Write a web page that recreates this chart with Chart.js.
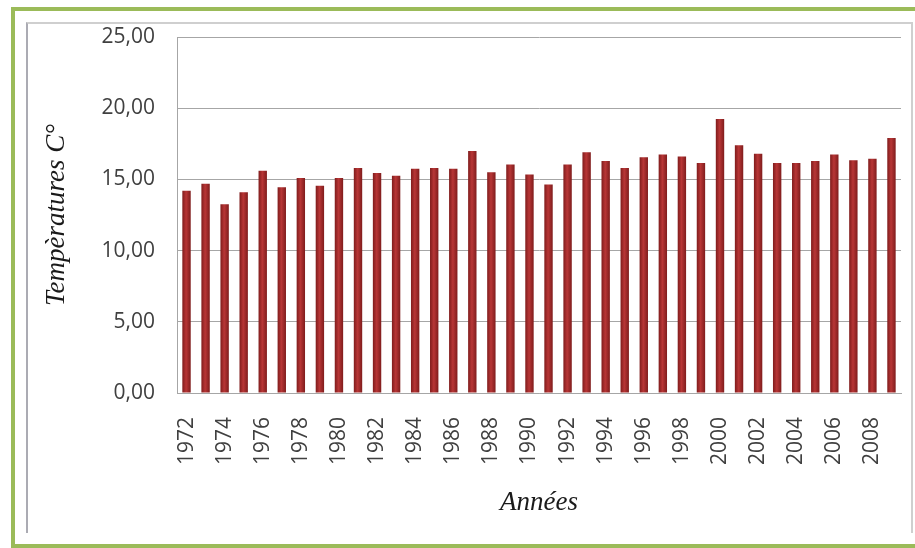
<!DOCTYPE html>
<html>
<head>
<meta charset="utf-8">
<script src="https://cdn.jsdelivr.net/npm/chart.js@4/dist/chart.umd.min.js"></script>
<style>
    html, body { margin: 0; padding: 0; background: #fff; overflow: hidden; }
    #frame { position: absolute; left: 11px; top: 7px; width: 930px; height: 541px; box-sizing: border-box; border: 4px solid #9bbb59; }
    #inner { position: absolute; left: 26px; top: 22px; width: 887px; height: 511px; box-sizing: border-box; border: 2px solid #cfcfcf; border-left-color: #ababb3; border-bottom: none; }
    #chart { position: absolute; left: 0; top: 0; }
</style>
</head>
<body>
<div id="frame"></div>
<div id="inner"></div>
<canvas id="chart" width="915" height="548"></canvas>
<script>
// Températures moyennes annuelles
const annees = [
    '1972', '1973', '1974', '1975', '1976', '1977', '1978', '1979', '1980', '1981',
    '1982', '1983', '1984', '1985', '1986', '1987', '1988', '1989', '1990', '1991',
    '1992', '1993', '1994', '1995', '1996', '1997', '1998', '1999', '2000', '2001',
    '2002', '2003', '2004', '2005', '2006', '2007', '2008', '2009'
];
const temperatures = [
    14.2, 14.7, 13.25, 14.1, 15.6, 14.45, 15.1, 14.55, 15.1, 15.8,
    15.45, 15.25, 15.75, 15.8, 15.75, 17.0, 15.5, 16.05, 15.35, 14.65,
    16.05, 16.9, 16.3, 15.8, 16.55, 16.75, 16.6, 16.15, 19.25, 17.4,
    16.8, 16.15, 16.15, 16.3, 16.75, 16.35, 16.45, 17.9
];
const yTicks = [0, 5, 10, 15, 20, 25];

const tickFont = { family: '"Open Sans"', size: 21 };
const titleFont = { family: '"Liberation Serif"', size: 27, style: 'italic' };

// dégradé horizontal sur chaque barre (bords foncés, centre plus clair)
function barFill(c) {
    const chart = c.chart;
    if (c.dataIndex === undefined || !chart.chartArea) return '#a52a2a';
    const x = chart.scales.x.getPixelForValue(c.dataIndex);
    const half = 4.2;
    const g = chart.ctx.createLinearGradient(x - half, 0, x + half, 0);
    g.addColorStop(0, '#7f1c1c');
    g.addColorStop(0.45, '#b83636');
    g.addColorStop(1, '#7f1c1c');
    return g;
}

new Chart(document.getElementById('chart'), {
    type: 'bar',
    data: {
        labels: annees,
        datasets: [{
            data: temperatures,
            backgroundColor: barFill,
            borderWidth: 0,
            categoryPercentage: 1,
            barPercentage: 0.44
        }]
    },
    options: {
        responsive: false,
        animation: false,
        layout: { padding: { left: 0, top: 37, right: 14, bottom: 0 } },
        plugins: { legend: { display: false }, tooltip: { enabled: false } },
        scales: {
            x: {
                grid: { display: false, drawTicks: false },
                border: { display: true, color: '#a6a6a6', width: 1 },
                ticks: {
                    autoSkip: false,
                    minRotation: 90,
                    maxRotation: 90,
                    padding: 24,
                    color: '#404040',
                    font: tickFont,
                    callback: (v, i) => (i % 2 === 0 ? annees[i] : '')
                },
                title: { display: true, text: 'Années', color: '#1a1a1a', font: titleFont, padding: { top: 0, bottom: 29 } },
                // pas de marge supplémentaire pour les étiquettes pivotées
                afterFit: s => { s.height = 155; s.paddingLeft = 0; s.paddingRight = 0; }
            },
            y: {
                min: 0,
                max: 25,
                afterBuildTicks: s => { s.ticks = yTicks.map(v => ({ value: v })); },
                grid: { color: '#a6a6a6', lineWidth: 1, drawTicks: false },
                border: { display: true, color: '#a6a6a6', width: 1 },
                ticks: {
                    padding: 22,
                    color: '#404040',
                    font: tickFont,
                    callback: v => v.toFixed(2).replace('.', ',')
                },
                title: { display: true, text: 'Tempèratures C°', color: '#1a1a1a', font: titleFont, padding: { top: 41, bottom: 0 } },
                afterFit: s => { s.width = 177; }
            }
        }
    }
});
</script>
</body>
</html>
